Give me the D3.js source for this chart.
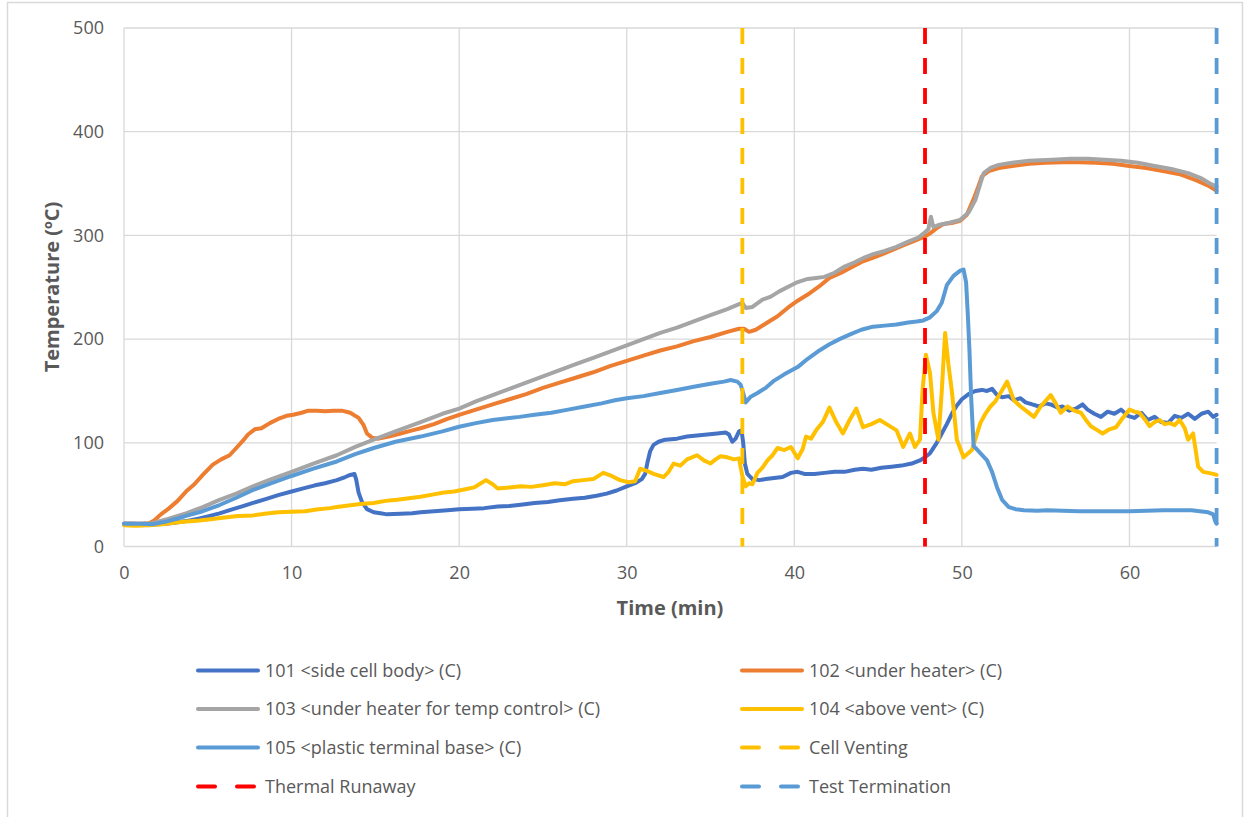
<!DOCTYPE html>
<html>
<head>
<meta charset="utf-8">
<script src="https://cdn.jsdelivr.net/npm/d3@7/dist/d3.min.js"></script>
<style>
  html, body { margin: 0; padding: 0; background: #ffffff; }
  svg { display: block; }
  text { font-family: "Open Sans", "Noto Sans", sans-serif; }
</style>
</head>
<body>
<svg id="chart" width="1252" height="817"></svg>
<script>
// Thermocouple readings, [time (min), temperature (°C)]
const s101 = [[0,22],[0.5,22],[1,21.5],[1.5,21],[2,21.5],[2.5,22],[3,23],[3.7,24.5],[4.5,27],[5,29],[5.7,32],[6.5,36],[7.1,39],[7.7,42],[8.5,46],[9.2,49.5],[10,53],[10.7,56],[11.4,59],[12,61],[12.7,64],[13.2,67],[13.5,69],[13.75,70],[13.85,65],[14,52],[14.2,43],[14.5,36],[14.9,33],[15.3,32],[15.7,31],[16.5,31.5],[17.2,32],[17.7,33],[18.5,34],[19.3,35],[20,36],[20.8,36.5],[21.5,37],[22.3,38.5],[23,39],[23.8,40.5],[24.5,42],[25.3,43],[26,44.5],[26.8,46],[27.5,47],[28.2,49],[28.8,51],[29.4,54],[30,58],[30.5,61],[30.9,65],[31.1,70],[31.25,82],[31.4,92],[31.6,98],[31.9,101],[32.3,103],[33,104],[33.6,106],[34.2,107],[34.8,108],[35.4,109],[35.9,110],[36.1,108],[36.3,101],[36.5,104],[36.7,111],[36.85,112],[36.95,100],[37.05,80],[37.2,70],[37.5,65],[37.9,64],[38.3,65],[38.8,66],[39.3,67],[39.8,71],[40.2,72],[40.6,70],[41.2,70],[41.8,71],[42.4,72],[43,72],[43.6,74],[44.1,75],[44.6,74],[45.2,76],[45.8,77],[46.4,78],[47,80],[47.5,83],[47.8,86],[48.1,90],[48.5,100],[48.8,109],[49.1,118],[49.4,128],[49.7,136],[50,142],[50.4,147],[50.8,150],[51.2,151],[51.5,150],[51.8,152],[52.1,146],[52.4,144],[52.8,145],[53.1,141],[53.5,143],[53.8,139],[54.2,137],[54.6,135],[55,138],[55.3,137],[55.7,134],[56,135],[56.4,131],[56.8,133],[57.2,137],[57.5,132],[57.9,128],[58.3,125],[58.7,130],[59.1,128],[59.5,132],[59.9,126],[60.3,124],[60.7,129],[61.1,122],[61.5,125],[61.9,120],[62.3,119],[62.7,126],[63.1,124],[63.5,128],[63.9,123],[64.3,128],[64.7,130],[65,125],[65.2,127]];

const s102 = [[0,22],[0.5,22],[1,22],[1.5,22.5],[1.8,25],[2.2,31],[2.7,37],[3.2,44],[3.7,53],[4.2,60],[4.7,69],[5.3,79],[5.8,84],[6.3,88],[6.7,95],[7.1,102],[7.4,108],[7.8,113],[8.2,114],[8.7,119],[9.2,123],[9.7,126],[10.1,127],[10.6,129],[11,131],[11.5,131],[12,130.5],[12.5,131],[13,131],[13.5,129],[14,124],[14.3,117],[14.5,109],[14.8,105],[15.2,104],[15.8,106],[16.5,109],[17.2,112],[17.7,114],[18.5,118],[19.3,123],[20,127],[21,132],[22,137],[23,142],[24,147],[25,153],[26,158],[27,163],[28,168],[29,174],[30,179],[31,184],[32,189],[33,193],[34,198],[35,202],[36,207],[36.7,210],[37.0,210],[37.3,207],[37.7,209],[38.3,215],[39,222],[39.6,230],[40.2,237],[40.8,243],[41.5,251],[42.1,259],[42.8,264],[43.5,270],[44.1,275],[44.8,279],[45.4,283],[46,287],[46.6,291],[47.2,295],[47.8,299],[48.1,302],[48.5,307],[48.9,311],[49.4,312],[49.9,314],[50.3,320],[50.7,335],[51,348],[51.2,357],[51.6,362],[52.2,365],[53,367],[54,369],[55,370],[56,370.5],[57,370.5],[58,370],[59,369],[60,367],[61,365],[62,362],[63,359],[64,353],[64.7,348],[65.2,343]];

const s103 = [[0,22],[1,22],[1.7,22.5],[2.5,26],[3.2,29.5],[3.7,32],[4.7,38],[5.7,45],[6.7,51],[7.7,58],[8.8,65],[10,72],[11.3,80],[12.7,88],[13.8,96],[14.9,103],[16.2,111],[17.7,120],[19,128],[20,133],[21,140],[22,146],[23,152],[24,158],[25,164],[26,170],[27,176],[28,182],[29,188],[30,194],[31,200],[32,206],[33,211],[34,217],[35,223],[36,229],[36.6,233],[36.9,235],[37.1,230],[37.5,231],[38.1,238],[38.6,241],[39.1,246],[39.7,251],[40.2,255],[40.8,258],[41.3,259],[41.8,260],[42.4,264],[43,270],[43.6,274],[44.1,278],[44.7,282],[45.4,285],[46.1,289],[46.8,294],[47.4,298],[47.8,303],[48.0,306],[48.15,318],[48.3,308],[48.6,310],[49.2,312],[49.9,315],[50.4,322],[50.8,334],[51.1,350],[51.3,360],[51.7,365],[52.2,368],[53,370],[54,372],[55.4,373],[56.5,374],[57.5,374],[58.5,373],[59.5,372],[60.5,370],[61.5,367],[62.5,364],[63.5,360],[64.3,355],[64.8,350],[65.2,347]];

const s104 = [[0,20.5],[0.7,20],[1.5,20.5],[2.3,21.5],[3,23],[3.7,24],[4.5,25],[5.3,26.5],[6,28],[6.8,29.5],[7.7,30],[8.4,31.5],[9.2,33],[10,33.5],[10.8,34],[11.6,36],[12.3,37],[12.7,38],[13.4,39.5],[14.1,41],[14.9,42],[15.6,44],[16.3,45],[17,46.5],[17.7,48],[18.4,50],[19.1,52],[19.7,53],[20.3,55],[20.9,57],[21.3,61],[21.6,64],[22,60],[22.3,56],[23,57],[23.7,58],[24.3,57.5],[25,59],[25.7,61],[26.3,60],[26.8,63],[27.4,64],[28,65],[28.6,71],[29.1,68],[29.6,64],[30.1,62],[30.5,63],[30.8,75],[31.2,73],[31.6,70],[32.2,67],[32.5,72],[32.8,80],[33.2,78],[33.6,84],[34.2,88],[34.6,83],[35,80],[35.3,84],[35.6,87],[36,86],[36.4,84],[36.7,85],[36.9,68],[37.1,58],[37.3,61],[37.5,60],[37.8,71],[38.1,76],[38.4,83],[38.7,88],[39,95],[39.4,93],[39.8,96],[40.2,85],[40.5,94],[40.7,106],[41,104],[41.3,112],[41.7,120],[42.1,134],[42.5,120],[42.9,109],[43.3,122],[43.7,133],[44.1,115],[44.6,118],[45.1,122],[45.6,117],[46.1,112],[46.5,96],[46.9,109],[47.2,96],[47.5,103],[47.65,150],[47.85,185],[48.1,167],[48.3,129],[48.6,103],[48.8,150],[49.0,206],[49.2,175],[49.4,150],[49.7,103],[50.1,86],[50.6,93],[51.1,119],[51.4,128],[51.7,135],[52,140],[52.3,148],[52.7,159],[53.1,141],[53.5,135],[53.9,130],[54.3,125],[54.7,135],[55.3,146],[55.6,138],[55.9,129],[56.3,135],[56.7,131],[57.1,129],[57.4,122],[57.7,116],[58.1,112],[58.4,109],[58.8,113],[59.2,115],[59.6,124],[60,132],[60.3,130],[60.6,129],[60.9,123],[61.2,116],[61.5,120],[61.8,122],[62.1,118],[62.4,119],[62.7,117],[63,122],[63.3,114],[63.5,103],[63.8,109],[64.1,77],[64.4,72],[64.7,71],[65,70],[65.2,69]];

const s105 = [[0,22],[0.5,22],[1,22],[1.7,21.5],[2.5,24],[3.2,27],[3.7,29.5],[4.7,34],[5.7,40],[6.7,47],[7.7,54.5],[8.8,61],[10,68],[11.3,75],[12.7,82],[13.8,89],[14.9,95],[16.2,101],[17.7,106],[19,111],[20,115.5],[21,119],[22,122],[23,124],[23.6,125],[24.5,127],[25.5,129],[26.5,132],[27.5,135],[28.5,138],[29.3,141],[30,143],[31,145],[32,148],[33,151],[34,154],[35,157],[35.8,159],[36.2,160.5],[36.6,159],[36.8,156],[36.95,148],[37.1,139],[37.4,144.5],[37.8,148],[38.3,153],[38.8,160],[39.4,166],[40.2,173],[40.8,181],[41.4,188],[42.1,195],[42.7,200],[43.4,205],[44,209],[44.7,212],[45.4,213],[46.1,214],[46.8,216],[47.3,217],[47.7,218],[48.1,221],[48.5,227],[48.8,235],[49.1,252],[49.5,261],[49.9,266],[50.1,267],[50.25,255],[50.35,225],[50.45,190],[50.55,145],[50.7,97],[51.1,90],[51.5,83],[51.8,72],[52.1,57],[52.4,45],[52.8,38],[53.2,36],[53.7,35],[54.5,34.5],[55.1,35],[56,34.5],[57,34],[58,34],[59,34],[60,34],[61,34.5],[62,35],[63,35],[63.7,35],[64.2,34],[64.7,33],[65,31],[65.1,25],[65.2,22]];

// Event markers (min)
const eventNames = ["Cell Venting", "Thermal Runaway", "Test Termination"];
const eventTimes = [36.9, 47.8, 65.2];

const seriesNames = ["101 <side cell body> (C)", "102 <under heater> (C)", "103 <under heater for temp control> (C)", "104 <above vent> (C)", "105 <plastic terminal base> (C)"];
const seriesColors = ["#4472C4", "#ED7D31", "#A5A5A5", "#FFC000", "#5B9BD5"];
const eventColors = ["#FFC000", "#FF0000", "#5B9BD5"];

const xTicks = [0, 10, 20, 30, 40, 50, 60];
const yTicks = [0, 100, 200, 300, 400, 500];

const svg = d3.select("#chart");

// outer chart frame
svg.append("rect")
  .attr("x", 7.5).attr("y", 2.5)
  .attr("width", 1235).attr("height", 830)
  .attr("fill", "#ffffff").attr("stroke", "#d9d9d9").attr("stroke-width", 1.5);

const x = d3.scaleLinear().domain([0, 65.2]).range([124, 1216.6]);
const y = d3.scaleLinear().domain([0, 500]).range([546.5, 28]);

// gridlines
const grid = svg.append("g");
grid.selectAll("line.h").data(yTicks).join("line")
  .attr("x1", x(0)).attr("x2", x(65.2))
  .attr("y1", d => y(d)).attr("y2", d => y(d))
  .attr("stroke", "#d9d9d9").attr("stroke-width", 1.3);
grid.selectAll("line.v").data(xTicks).join("line")
  .attr("x1", d => x(d)).attr("x2", d => x(d))
  .attr("y1", y(0)).attr("y2", y(500))
  .attr("stroke", "#d9d9d9").attr("stroke-width", 1.3);

// axes (labels only; lines come from the grid)
const xAxis = svg.append("g").attr("transform", `translate(0,${y(0)})`)
  .call(d3.axisBottom(x).tickValues(xTicks).tickSize(0).tickPadding(20));
const yAxis = svg.append("g").attr("transform", `translate(${x(0) - 20},0)`)
  .call(d3.axisLeft(y).tickValues(yTicks).tickSize(0).tickPadding(0));
[xAxis, yAxis].forEach(a => {
  a.select(".domain").remove();
  a.selectAll("text").attr("fill", "#595959").style("font-size", "18px")
    .style("font-family", "'Open Sans', sans-serif");
});

// series lines
const line = d3.line().x(d => x(d[0])).y(d => y(d[1]));
const allSeries = [s101, s102, s103, s104, s105];
svg.append("g").selectAll("path").data(allSeries).join("path")
  .attr("d", line)
  .attr("fill", "none")
  .attr("stroke", (d, i) => seriesColors[i])
  .attr("stroke-width", 4)
  .attr("stroke-linejoin", "round")
  .attr("stroke-linecap", "round");

// event markers
svg.append("g").selectAll("line").data(eventTimes).join("line")
  .attr("x1", d => x(d)).attr("x2", d => x(d))
  .attr("y1", y(500)).attr("y2", y(0))
  .attr("stroke", (d, i) => eventColors[i])
  .attr("stroke-width", 3.8)
  .attr("stroke-dasharray", "16,14");

// axis titles
svg.append("text")
  .attr("x", 670).attr("y", 615)
  .attr("text-anchor", "middle")
  .attr("fill", "#595959").style("font-size", "20px").style("font-weight", "bold")
  .text("Time (min)");
svg.append("text")
  .attr("transform", "translate(59,287) rotate(-90)")
  .attr("text-anchor", "middle")
  .attr("fill", "#595959").style("font-size", "20px").style("font-weight", "bold")
  .text("Temperature (ºC)");

// legend
const legendItems = seriesNames.map((n, i) => ({ name: n, color: seriesColors[i], dashed: false }))
  .concat(eventNames.map((n, i) => ({ name: n, color: eventColors[i], dashed: true })));
const legendRowY = [670.5, 709, 747.5, 786.5];
const legendColX = [198, 742];
const lg = svg.append("g").selectAll("g").data(legendItems).join("g")
  .attr("transform", (d, i) => `translate(${legendColX[i % 2]},${legendRowY[Math.floor(i / 2)]})`);
lg.append("line")
  .attr("x1", 0).attr("x2", 60).attr("y1", 0).attr("y2", 0)
  .attr("stroke", d => d.color).attr("stroke-width", 4)
  .attr("stroke-linecap", "round")
  .attr("stroke-dasharray", d => d.dashed ? "17,22" : null);
lg.append("text")
  .attr("x", 67).attr("y", 0).attr("dy", "0.35em")
  .attr("fill", "#595959").style("font-size", "18px")
  .text(d => d.name);
</script>
</body>
</html>
